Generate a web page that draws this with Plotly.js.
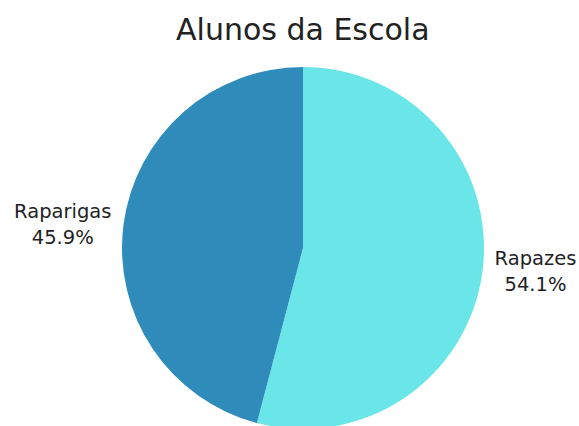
<!DOCTYPE html>
<html><head><meta charset="utf-8">
<script src="https://cdn.plot.ly/plotly-3.0.1.min.js"></script>
<style>html,body{margin:0;padding:0;overflow:hidden;background:#fff}</style>
</head><body>
<div id="chart" style="width:579px;height:430px"></div>
<script>
const labels = ["Rapazes", "Raparigas"];
const values = [54.1, 45.9];
const colors = ["#6ae5e8", "#2e8bba"];

Plotly.newPlot("chart", [{
  type: "pie",
  labels: labels,
  values: values,
  marker: {colors: colors},
  sort: false,
  direction: "clockwise",
  rotation: 0,
  textposition: "outside",
  texttemplate: "%{label}<br>%{percent:.1%}",
  outsidetextfont: {family: "DejaVu Sans, sans-serif", size: 19.5, color: "#222"},
  automargin: false,
  hoverinfo: "none"
}], {
  width: 579, height: 430,
  margin: {l: 122, r: 95, t: 67, b: 1},
  showlegend: false,
  paper_bgcolor: "#fff",
  title: {text: "Alunos da Escola", x: 0.523, xanchor: "center", y: 0.956, yanchor: "top",
          font: {family: "DejaVu Sans, sans-serif", size: 30, color: "#222"}}
}, {displayModeBar: false, staticPlot: true});
</script>
</body></html>
